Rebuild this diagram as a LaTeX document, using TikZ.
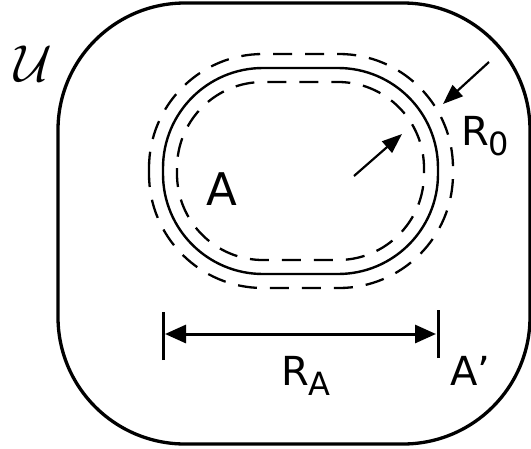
\documentclass[tikz,border=0pt]{standalone}
\usepackage{graphicx}
\usepackage{fontspec}
\setmainfont{DejaVu Sans}
\usepackage{tikz}
\usetikzlibrary{arrows.meta,positioning}

\newcommand{\sublbl}[2]{#1\raisebox{-10pt}{\fontsize{32}{32}\selectfont #2}}

\begin{document}
\begin{tikzpicture}[x=1pt,y=-1pt,
  labeltext/.style={font=\fontsize{40}{42}\selectfont, inner sep=0pt, anchor=base west},
  ring/.style={line width=2.4pt},
  offsetring/.style={line width=2.3pt, dash pattern=on 19pt off 13pt},
  radiusarrow/.style={line width=2.2pt, -{Triangle[length=20pt,width=15pt]}},
  spanarrow/.style={line width=3pt, {Triangle[length=21pt,width=18pt]}-{Triangle[length=21pt,width=18pt]}}]
  \useasboundingbox (0,0) rectangle (531,448);
  % universe
  \draw[line width=3.3pt, rounded corners=127pt] (58,3) rectangle (530,444);
  \node[inner sep=0pt] (univ) at (33,64) {\scalebox{5.2}{$\mathcal{U}$}};
  % region A and its offsets
  \draw[ring, rounded corners=100pt] (163,68) rectangle (438,274);
  \draw[offsetring, rounded corners=114pt] (149,54) rectangle (453,288);
  \draw[offsetring, rounded corners=86pt] (177,82) rectangle (424,260);
  \node[labeltext, font=\fontsize{45}{47}\selectfont] (regA) at (206,205) {A};
  % offset radius
  \coordinate (outtail) at (489,62);
  \coordinate (outtip) at (443,104);
  \coordinate (intail) at (354,176);
  \coordinate (intip) at (402,134);
  \draw[radiusarrow] (outtail) -- (outtip);
  \draw[radiusarrow] (intail) -- (intip);
  \node[labeltext] (rzero) at (461,145) {\sublbl{R}{0}};
  % span
  \coordinate (spanL) at (163,334);
  \coordinate (spanR) at (438,334);
  \draw[line width=3pt] ([yshift=-26pt]spanL) -- ([yshift=22pt]spanL);
  \draw[line width=3pt] ([yshift=-24pt]spanR) -- ([yshift=24pt]spanR);
  \draw[spanarrow] ([xshift=2pt]spanL) -- ([xshift=-2pt]spanR);
  \node[labeltext] (rspan) at (281,385) {\sublbl{R}{A}};
  \node[labeltext] (aprime) at (450,385) {A’};
\end{tikzpicture}
\end{document}
